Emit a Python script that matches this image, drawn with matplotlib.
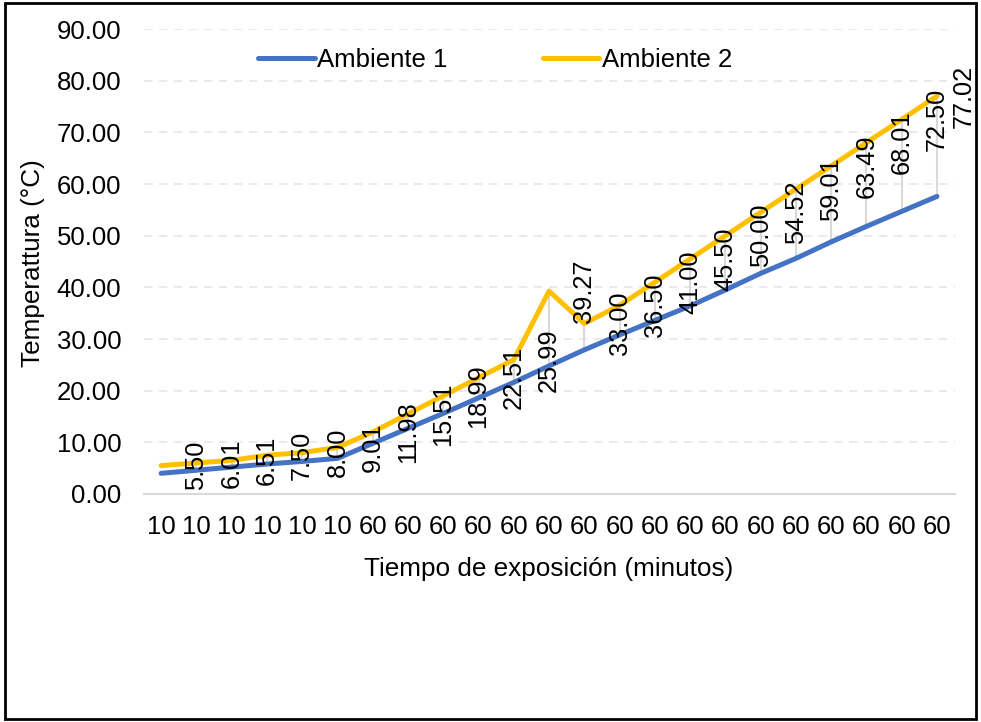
import matplotlib
matplotlib.use("Agg")
import matplotlib.pyplot as plt
from matplotlib.patches import Rectangle

plt.rcParams['font.family'] = ['Liberation Sans', 'DejaVu Sans']

categories = ["10"] * 6 + ["60"] * 17
ambiente1 = [4.0, 4.6, 5.2, 5.8, 6.3, 6.9, 9.8, 12.7, 15.6, 18.6, 21.6, 24.8,
             27.9, 30.8, 33.6, 36.4, 39.5, 42.7, 45.6, 48.8, 51.8, 54.7, 57.6]
ambiente2 = [5.50, 6.01, 6.51, 7.50, 8.00, 9.01, 11.98, 15.51, 18.99, 22.51, 25.99, 39.27,
             33.00, 36.50, 41.00, 45.50, 50.00, 54.52, 59.01, 63.49, 68.01, 72.50, 77.02]
yticks = [0, 10, 20, 30, 40, 50, 60, 70, 80, 90]

fig = plt.figure(figsize=(9.81, 7.22), dpi=100)
ax = fig.add_axes([0.1463, 0.3158, 0.8268, 0.644])

x = list(range(len(categories)))

# leader lines
for i in x[1:]:
    ax.plot([i, i], [ambiente1[i], ambiente2[i]], color="#D9D9D9", lw=1.5, zorder=2,
            solid_capstyle="butt")

ax.plot(x, ambiente1, color="#4472C4", lw=3.6, label="Ambiente 1", zorder=3,
        solid_capstyle="round", solid_joinstyle="round")
ax.plot(x, ambiente2, color="#FFC000", lw=3.6, label="Ambiente 2", zorder=3,
        solid_capstyle="round", solid_joinstyle="round")

# data labels (shifted one category to the right, as in the original;
# the last one is squeezed inside the chart area)
xmax_label = len(categories) - 0.24
for i, v in enumerate(ambiente2):
    ax.text(min(i + 1, xmax_label), v, f"{v:.2f}", rotation=90, ha="center", va="center",
            fontsize=18.3, color="black", zorder=5, clip_on=False,
            rotation_mode="anchor")

ax.set_xlim(-0.5, len(categories) - 0.5)
ax.set_ylim(0, 90)
ax.set_xticks(x)
ax.set_xticklabels(categories)
ax.set_yticks(yticks)
ax.set_yticklabels([f"{t:.2f}" for t in yticks])
ax.tick_params(axis="both", length=0, labelsize=18.5)
ax.tick_params(axis="y", pad=16)
ax.tick_params(axis="x", pad=15)

for s in ["top", "right", "left"]:
    ax.spines[s].set_visible(False)
ax.spines["bottom"].set_color("#D9D9D9")
ax.spines["bottom"].set_linewidth(1.5)

ax.grid(axis="y", color="#E6E6E6", linestyle=(0, (5, 4)), lw=1.2, zorder=0)
ax.set_axisbelow(True)

ax.set_xlabel("Tiempo de exposición (minutos)", fontsize=18.8, labelpad=13)
fig.text(0.034, 0.636, "Temperattura (°C)", rotation=90, ha="center", va="center", fontsize=18.8)

fig.legend(loc="center", bbox_to_anchor=(0.5046, 0.917), ncol=2, frameon=False,
           fontsize=18.5, handlelength=2.2, handletextpad=0.1, columnspacing=3.7)

fig.patches.append(Rectangle((0.005, 0.004), 0.99, 0.992, transform=fig.transFigure,
                             fill=False, edgecolor="black", lw=2))

fig.savefig("out.png", dpi=100, facecolor="white")
